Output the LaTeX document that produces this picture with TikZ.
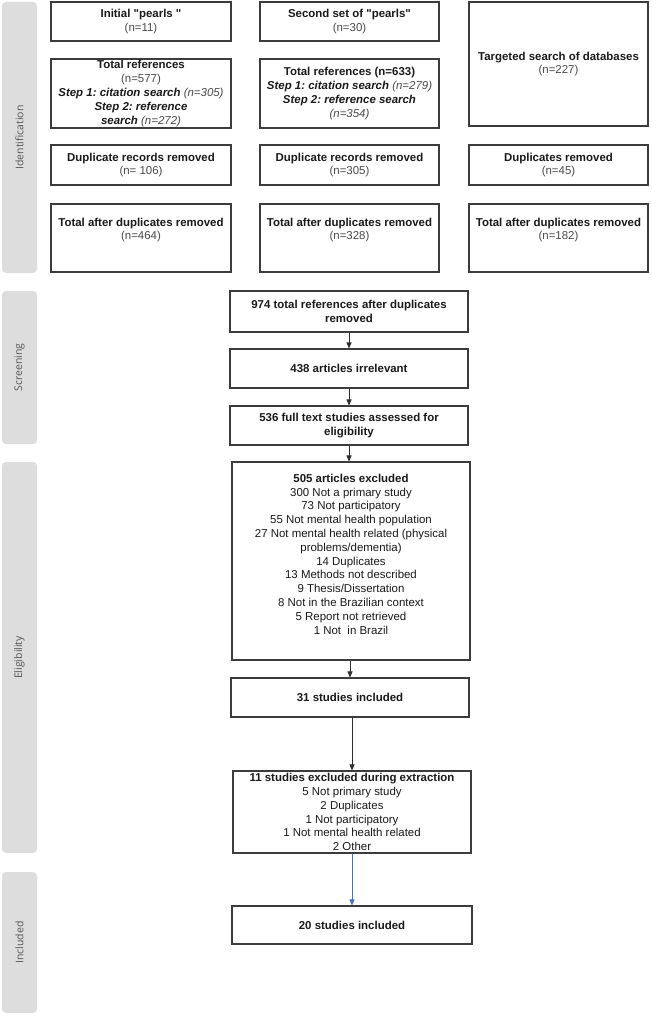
\documentclass[tikz,border=0pt]{standalone}
\usepackage{fontspec}
\setmainfont{Liberation Sans}
\newfontfamily\bandfont{Open Sans}
\usepackage{xcolor}
\usetikzlibrary{arrows.meta, positioning}
\definecolor{bandgray}{HTML}{DDDDDD}
\definecolor{bandtext}{HTML}{555555}
\definecolor{boxline}{HTML}{3C3C3C}
\definecolor{textblack}{HTML}{1A1A1A}
\definecolor{ngray}{HTML}{4A4A4A}
\definecolor{arrowgray}{HTML}{2E2E2E}
\definecolor{arrowblue}{HTML}{4472C4}
\newcommand{\nval}[1]{{\mdseries\color{ngray}#1}}
\newcommand{\exline}[1]{{\mdseries #1}}
\frenchspacing

\begin{document}
\begin{tikzpicture}[x=1pt, y=-1pt,
		box/.style={draw=boxline, line width=1.1pt, inner sep=0pt, align=center, text=textblack,
			font=\fontsize{11.45}{13.8}\selectfont\bfseries},
		band/.style={fill=bandgray, rounded corners=4pt},
		bandlabel/.style={rotate=90, text=bandtext, font=\bandfont\fontsize{10.5}{12}\selectfont},
		arr/.style={draw=arrowgray, line width=0.9pt, -{Triangle[length=6pt, width=5pt]}}]
	\fill[white] (0,0) rectangle (652,1016);
	\useasboundingbox (0,0) rectangle (652,1016);
	%% side bands
	\fill[band] (2,2) rectangle (37,273);
	\fill[band] (2,291) rectangle (37,444);
	\fill[band] (2,462) rectangle (37,853);
	\fill[band] (2,872) rectangle (37,1013);
	\node[bandlabel] (lblident) at (19.5,137.5) {Identification};
	\node[bandlabel] (lblscreen) at (19.5,367.5) {Screening};
	\node[bandlabel] (lbleligib) at (19.5,657.5) {Eligibility};
	\node[bandlabel] (lblinclud) at (19.5,942.5) {Included};
	%% identification
	\node[box, minimum width=180, minimum height=39] (pearlsA) at (141,21.5)
	{Initial \textquotedbl pearls \textquotedbl\\ \nval{(n=11)}};
	\node[box, minimum width=179, minimum height=39] (pearlsB) at (349.5,21.5)
	{Second set of \textquotedbl pearls\textquotedbl\\ \nval{(n=30)}};
	\node[box, minimum width=179, minimum height=124] (dbsearch) at (558.5,64)
	{Targeted search of databases\\ \nval{(n=227)}};
	\node[box, minimum width=180, minimum height=69] (totalA) at (141,93.5)
	{Total references\\ \nval{(n=577)}\\
		\textit{Step 1: citation search \nval{(n=305)}}\\
		\textit{Step 2: reference}\\
		\textit{search \nval{(n=272)}}};
	\node[box, minimum width=179, minimum height=69] (totalB) at (349.5,93.5)
	{Total references (n=633)\\
		\textit{Step 1: citation search \nval{(n=279)}}\\
		\textit{Step 2: reference search}\\
		\textit{\nval{(n=354)}}};
	%%
	\node[box, minimum width=180, minimum height=40] (dupA) at (141,165)
	{Duplicate records removed\\ \nval{(n= 106)}};
	\node[box, minimum width=179, minimum height=40] (dupB) at (349.5,165)
	{Duplicate records removed\\ \nval{(n=305)}};
	\node[box, minimum width=179, minimum height=40] (dupC) at (558.5,165)
	{Duplicates removed\\ \nval{(n=45)}};
	%%
	\node[box, minimum width=180, minimum height=68] (afterA) at (141,238)
	{Total after duplicates removed\\ \nval{(n=464)}\\[4.5pt] \mbox{}};
	\node[box, minimum width=179, minimum height=68] (afterB) at (349.5,238)
	{Total after duplicates removed\\ \nval{(n=328)}\\[4.5pt] \mbox{}};
	\node[box, minimum width=179, minimum height=68] (afterC) at (558.5,238)
	{Total after duplicates removed\\ \nval{(n=182)}\\[4.5pt] \mbox{}};
	%% screening
	\node[box, minimum width=238, minimum height=41] (merged) at (349,311.5)
	{974 total references after duplicates\\ removed};
	\node[box, minimum width=238, minimum height=39] (irrel) at (349,368.5)
	{438 articles irrelevant};
	\node[box, minimum width=238, minimum height=39] (fulltext) at (349,425.5)
	{536 full text studies assessed for\\ eligibility};
	%% eligibility
	\node[box, minimum width=238, minimum height=198] (excl) at (351,561)
	{505 articles excluded\\
		\exline{300 Not a primary study}\\
		\exline{73 Not participatory}\\
		\exline{55 Not mental health population}\\
		\exline{27 Not mental health related (physical}\\
		\exline{problems/dementia)}\\
		\exline{14 Duplicates}\\
		\exline{13 Methods not described}\\
		\exline{9 Thesis/Dissertation}\\
		\exline{8 Not in the Brazilian context}\\
		\exline{5 Report not retrieved}\\
		\exline{1 Not~ in Brazil}\\ \mbox{}};
	\node[box, minimum width=238, minimum height=39] (incl31) at (350,697.5)
	{31 studies included};
	\node[box, minimum width=238, minimum height=82] (extract) at (352,812)
	{11 studies excluded during extraction\\
		\exline{5 Not primary study}\\
		\exline{2 Duplicates}\\
		\exline{1 Not participatory}\\
		\exline{1 Not mental health related}\\
		\exline{2 Other}};
	%% included
	\node[box, minimum width=240, minimum height=38] (incl20) at (352,925)
	{20 studies included};
	%% connectors
	\draw[arr] (merged.south) -- (irrel.north);
	\draw[arr] (irrel.south) -- (fulltext.north);
	\draw[arr] (fulltext.south) -- (fulltext.south |- excl.north);
	\draw[arr] (incl31.north |- excl.south) -- (incl31.north);
	\draw[arr] (extract.north |- incl31.south) -- (extract.north);
	\draw[arr, draw=arrowblue] (extract.south) -- (incl20.north);
\end{tikzpicture}
\end{document}
